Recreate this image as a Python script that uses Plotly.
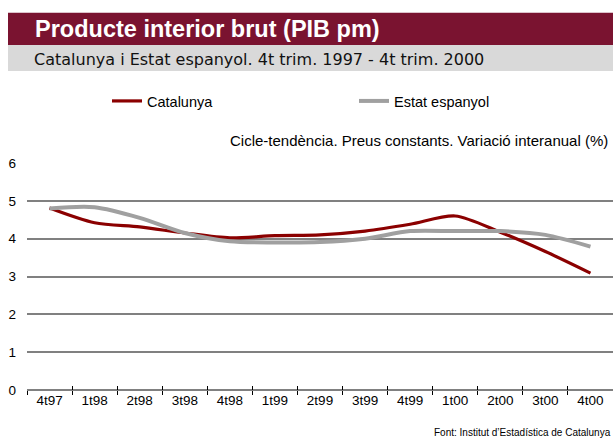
import plotly.graph_objects as go

quarters = ["4t97", "1t98", "2t98", "3t98", "4t98", "1t99", "2t99", "3t99",
            "4t99", "1t00", "2t00", "3t00", "4t00"]
catalunya = [4.81, 4.42, 4.31, 4.15, 4.02, 4.08, 4.10, 4.20, 4.38, 4.60, 4.17, 3.66, 3.09]
estat = [4.80, 4.83, 4.55, 4.15, 3.93, 3.90, 3.91, 4.00, 4.20, 4.20, 4.20, 4.10, 3.79]
y_ticks = [0, 1, 2, 3, 4, 5, 6]

FONT = "Liberation Sans"
MAROON = "#7A1330"

fig = go.Figure()
fig.add_trace(go.Scatter(x=quarters, y=catalunya, name="Catalunya", mode="lines",
                         line=dict(color="#8B0000", width=3.2, shape="spline", smoothing=0.8)))
fig.add_trace(go.Scatter(x=quarters, y=estat, name="Estat espanyol", mode="lines",
                         line=dict(color="#A0A0A0", width=4, shape="spline", smoothing=0.8)))
# dummy trace for the upper half of the crossing ticks
fig.add_trace(go.Scatter(x=quarters, y=[None] * len(quarters), xaxis="x2", showlegend=False,
                         hoverinfo="skip", mode="lines"))

fig.update_layout(
    width=613, height=440,
    margin=dict(l=27, r=0, t=163, b=50, autoexpand=False),
    paper_bgcolor="white", plot_bgcolor="white",
    font=dict(family=FONT, size=13, color="black"),
    showlegend=True,
    legend=dict(orientation="h", x=(107 - 27) / 586, xanchor="left",
                y=(390 - 101) / 227, yanchor="middle",
                entrywidth=202, entrywidthmode="pixels",
                font=dict(size=14.5), bgcolor="rgba(0,0,0,0)"),
    xaxis=dict(type="category", categoryorder="array", categoryarray=quarters,
               tickson="boundaries", ticks="outside", ticklen=4, tickcolor="black", tickwidth=1,
               showgrid=False, showline=False, zeroline=False,
               tickfont=dict(size=13.5), range=[-0.5, 12.5]),
    xaxis2=dict(type="category", categoryorder="array", categoryarray=quarters,
                overlaying="x", matches="x", anchor="y", side="bottom",
                tickson="boundaries", ticks="inside", ticklen=4, tickcolor="black", tickwidth=1,
                showticklabels=False, showgrid=False, showline=False, zeroline=False),
    yaxis=dict(range=[0, 6], tickvals=y_ticks, showgrid=True, gridcolor="#808080", gridwidth=1.5,
               zeroline=True, zerolinecolor="#808080", zerolinewidth=1.5,
               showline=False, ticks="", tickfont=dict(size=13.5), ticklabelstandoff=10),
)

# header bars
fig.add_shape(type="rect", xref="paper", yref="paper",
              x0=(8 - 27) / 586, x1=1.0, y0=(390 - 45) / 227, y1=(390 - 12.7) / 227,
              fillcolor=MAROON, line=dict(width=0), layer="below")
fig.add_shape(type="rect", xref="paper", yref="paper",
              x0=(8 - 27) / 586, x1=1.0, y0=(390 - 71) / 227, y1=(390 - 45) / 227,
              fillcolor="#D9D9D9", line=dict(width=0), layer="below")

fig.add_annotation(text="<b>Producte interior brut (PIB pm)</b>", xref="paper", yref="paper",
                   x=(33 - 27) / 586, y=(390 - 29) / 227, xanchor="left", yanchor="middle",
                   showarrow=False, font=dict(family=FONT, size=23.5, color="white"))
fig.add_annotation(text="Catalunya i Estat espanyol. 4t trim. 1997 - 4t trim. 2000",
                   xref="paper", yref="paper",
                   x=(32 - 27) / 586, y=(390 - 59) / 227, xanchor="left", yanchor="middle",
                   showarrow=False, font=dict(family="DejaVu Sans", size=16, color="#111111"))
fig.add_annotation(text="Cicle-tendència. Preus constants. Variació interanual (%)",
                   xref="paper", yref="paper",
                   x=(610 - 27) / 586, y=(390 - 141) / 227, xanchor="right", yanchor="middle",
                   showarrow=False, font=dict(family=FONT, size=15, color="black"))
fig.add_annotation(text="Font: Institut d’Estadística de Catalunya",
                   xref="paper", yref="paper",
                   x=1.0, y=(390 - 432) / 227, xanchor="right", yanchor="middle",
                   showarrow=False, font=dict(family=FONT, size=10, color="black"))

fig.write_html("out.html", config={"displayModeBar": False},
               post_script="document.body.style.margin='0';document.body.style.overflow='hidden';")
